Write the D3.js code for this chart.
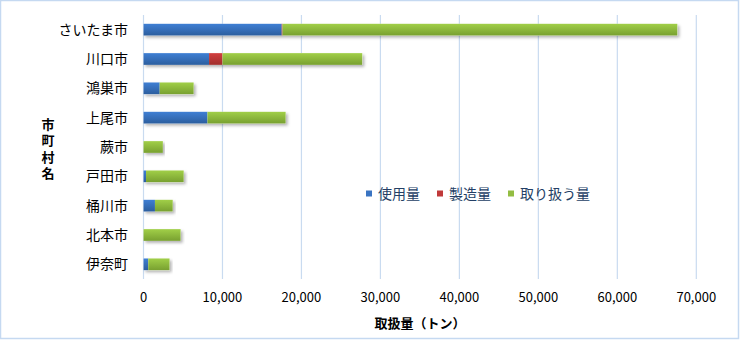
<!DOCTYPE html>
<html><head><meta charset="utf-8">
<script src="https://cdn.jsdelivr.net/npm/d3@7"></script>
<style>body{margin:0;background:#fff;} text{font-family:"Noto Sans CJK JP","Noto Sans",sans-serif;}</style>
</head><body>
<svg id="c" width="740" height="340"></svg>
<script>
const categories = ["さいたま市","川口市","鴻巣市","上尾市","蕨市","戸田市","桶川市","北本市","伊奈町"];
const seriesNames = ["使用量","製造量","取り扱う量"];
const useVals  = [17500, 8300, 2050, 8100,    0,  320, 1450,    0,  600];
const makeVals = [  100, 1700,    0,    0,    0,    0,    0,    0,    0];
const handleVals=[50000,17700, 4300, 9900, 2450, 4770, 2250, 4700, 2700];
const xTicks = [0,10000,20000,30000,40000,50000,60000,70000];
const colors = ["#3a74c2","#c0393a","#93bd42"];
const darkColors = ["#2c5e9e","#a02e2c","#78a030"];

const svg = d3.select("#c");
const defs = svg.append("defs");
colors.forEach((c,i)=>{
  const g = defs.append("linearGradient").attr("id","g"+i).attr("x1",0).attr("x2",0).attr("y1",0).attr("y2",1);
  g.append("stop").attr("offset","0%").attr("stop-color",d3.color(c).brighter(0.25));
  g.append("stop").attr("offset","100%").attr("stop-color",darkColors[i]);
});
const f = defs.append("filter").attr("id","sh").attr("x","-5%").attr("y","-30%").attr("width","115%").attr("height","190%");
f.append("feDropShadow").attr("dx",2).attr("dy",2).attr("stdDeviation",1.5).attr("flood-color","#000").attr("flood-opacity",0.3);

svg.append("rect").attr("x",0.5).attr("y",0.5).attr("width",738).attr("height",338)
  .attr("fill","#fff").attr("stroke","#c5d9f1").attr("stroke-width",1.5);

const x = d3.scaleLinear().domain([0,70000]).range([143.5,696.3]);
const y = d3.scaleBand().domain(categories).range([15,279]).paddingInner(0.6).paddingOuter(0.3);

// grid
svg.append("g").selectAll("line").data(xTicks).join("line")
  .attr("x1",d=>x(d)).attr("x2",d=>x(d)).attr("y1",15).attr("y2",279)
  .attr("stroke","#c9dbf0").attr("stroke-width",1.2);

const data = categories.map((c,i)=>({cat:c, s0:useVals[i], s1:makeVals[i], s2:handleVals[i]}));
const stack = d3.stack().keys(["s0","s1","s2"])(data);

// shadow per category (total bar)
svg.append("g").selectAll("rect").data(data).join("rect")
  .attr("x",x(0)).attr("y",d=>y(d.cat)).attr("height",y.bandwidth())
  .attr("width",d=>x(d.s0+d.s1+d.s2)-x(0)).attr("fill","#fff").attr("filter","url(#sh)");

stack.forEach((layer,i)=>{
  svg.append("g").selectAll("rect").data(layer).join("rect")
    .attr("x",d=>x(d[0])).attr("y",d=>y(d.data.cat))
    .attr("width",d=>Math.max(0,x(d[1])-x(d[0]))).attr("height",y.bandwidth())
    .attr("fill",`url(#g${i})`);
});

// axes labels
svg.append("g").selectAll("text").data(xTicks).join("text")
  .attr("x",d=>x(d)).attr("y",302).attr("text-anchor","middle")
  .attr("font-size",13).attr("fill","#000").text(d=>d3.format(",")(d));

svg.append("g").selectAll("text").data(categories).join("text")
  .attr("x",128).attr("y",d=>y(d)+y.bandwidth()/2).attr("dy","0.36em").attr("text-anchor","end")
  .attr("font-size",14).attr("fill","#000").text(d=>d);

svg.append("text").attr("x",420).attr("y",328).attr("text-anchor","middle")
  .attr("font-size",13).attr("font-weight","bold").text("取扱量（トン）");

svg.append("text").attr("x",48).attr("y",150.5).attr("text-anchor","middle")
  .style("writing-mode","vertical-rl").style("letter-spacing","3.5px")
  .attr("font-size",13).attr("font-weight","bold").text("市町村名");

// legend
const legX = [366, 437, 508];
const lg = svg.append("g");
seriesNames.forEach((n,i)=>{
  lg.append("rect").attr("x",legX[i]).attr("y",190.5).attr("width",6).attr("height",6).attr("fill",colors[i]);
  lg.append("text").attr("x",legX[i]+12).attr("y",194).attr("dy","0.36em")
    .attr("font-size",14).attr("fill","#243f66").text(n);
});
</script>
</body></html>
